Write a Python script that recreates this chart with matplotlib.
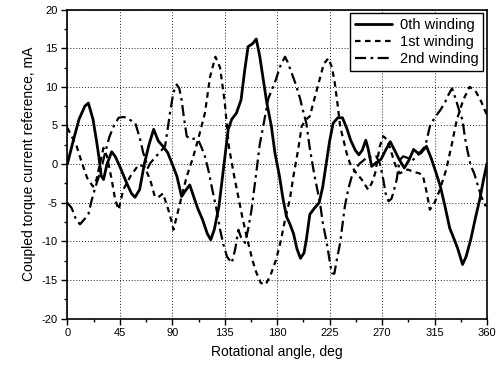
import matplotlib
matplotlib.use("Agg")
import matplotlib.pyplot as plt
from matplotlib.ticker import MultipleLocator

plt.rcParams['font.family'] = ['Liberation Sans', 'DejaVu Sans']
plt.rcParams['axes.unicode_minus'] = False

# 0th winding
angle_0 = [0, 5, 10, 15, 18, 22, 25, 27, 29, 31, 34, 38, 41, 45, 51, 55, 58, 62, 66, 70,
           74, 78, 82, 86, 90, 94, 98, 101, 105, 109, 112, 116, 120, 123, 126, 130, 134,
           138, 141, 145, 149, 152, 155, 159, 162, 165, 168, 171, 175, 178, 182, 185, 188,
           191, 194, 197, 200, 203, 205, 208, 212, 216, 219, 222, 225, 228, 232, 236, 240,
           243, 247, 250, 253, 256, 258, 261, 265, 269, 273, 277, 280, 284, 289, 293, 297,
           300, 303, 308, 312, 316, 320, 324, 328, 332, 335, 339, 342, 346, 350, 354, 357, 360]
current_0 = [0.0, 3.0, 5.8, 7.5, 7.9, 5.8, 3.0, 1.0, -1.5, -2.0, 0.0, 1.6, 1.0, -0.3, -2.5,
             -3.8, -4.3, -3.3, 0.0, 2.5, 4.5, 3.0, 2.3, 1.5, 0.0, -1.6, -4.2, -3.5, -2.7,
             -4.5, -5.8, -7.2, -9.0, -9.8, -8.5, -5.5, -0.5, 4.5, 5.8, 6.6, 8.3, 12.0, 15.2,
             15.6, 16.2, 14.0, 11.0, 8.0, 4.9, 1.5, -1.6, -4.5, -6.8, -7.8, -9.0, -11.0,
             -12.2, -11.5, -9.8, -6.5, -5.7, -5.0, -3.0, 0.0, 3.0, 5.3, 6.0, 6.0, 4.5, 3.1,
             1.8, 1.2, 1.8, 3.1, 2.0, -0.3, 0.2, 0.6, 1.8, 2.9, 2.0, 0.8, -0.5, 0.5, 1.9,
             1.5, 1.4, 2.3, 0.8, -1.0, -2.9, -5.5, -8.3, -9.8, -11.0, -13.0, -12.0, -9.8,
             -7.0, -4.4, -2.0, 0.1]

# 1st winding
angle_1 = [0, 4, 8, 12.6, 17, 22, 25, 28, 31, 34, 38, 41, 44, 48, 54, 61, 66, 71, 75, 78,
           82, 86.6, 89.5, 91, 93.8, 98, 102.4, 107.7, 112, 118, 122.4, 127, 131, 135,
           138.5, 143, 147, 150, 154, 158.7, 162, 166, 170, 174, 179, 183, 187, 190.8, 194,
           198, 201, 205, 208, 212, 217, 220, 224, 227, 229.4, 232, 234, 239.6, 242.4, 247,
           252.5, 258, 261, 264, 268, 271, 274, 277, 281, 285, 292, 297, 302, 305, 308,
           311, 315, 319.6, 325, 330, 334, 339.6, 345, 350, 355, 360]
current_1 = [4.7, 3.5, 2.3, 0.1, -1.8, -2.9, -2.0, 0.1, 2.1, 1.0, -2.0, -4.6, -5.9, -3.3,
             -1.6, -0.1, -0.3, -2.0, -4.2, -4.3, -3.8, -5.9, -7.5, -8.5, -6.8, -4.2, -1.6,
             0.8, 3.1, 6.6, 11.3, 13.9, 12.5, 8.0, 2.3, -1.5, -4.5, -6.8, -9.5, -12.4,
             -14.0, -15.4, -15.6, -14.5, -12.4, -10.0, -7.0, -4.6, -1.5, 1.9, 4.9, 5.8, 6.2,
             8.5, 11.3, 13.0, 13.7, 12.5, 10.5, 7.5, 4.9, 1.4, 0.1, -1.0, -2.0, -3.3, -2.5,
             -1.2, 2.3, 3.6, 3.2, 2.0, 0.0, -1.2, -0.7, -1.0, -1.2, -1.5, -3.5, -5.9, -5.0,
             -3.3, -0.7, 2.7, 5.7, 8.3, 10.0, 9.5, 8.1, 6.3]

# 2nd winding
angle_2 = [0, 3.7, 7, 10.8, 15.4, 18, 21, 24, 27, 30, 32.6, 36, 40, 44, 48, 51, 55, 58.3,
           60.5, 62.6, 65, 67, 69, 71, 75, 79, 83.8, 86, 88, 91, 93.8, 96, 98, 100, 102.4,
           106, 109, 112.3, 115, 118, 121, 123.8, 128, 131, 134, 137, 141, 144, 146.7, 149,
           152.4, 155, 158, 162.4, 165, 168, 172.4, 176.7, 179, 182.4, 186.7, 189, 192.4,
           196, 199.6, 202, 205, 208, 212, 216.7, 219, 222.5, 225, 226.8, 229, 231, 234,
           238, 241, 244, 247, 251, 255, 258, 262, 265, 268, 271, 273, 275.5, 278, 280,
           282.5, 285, 288, 292, 296, 300, 304, 307, 311, 315, 320, 324, 327, 330, 333, 336,
           339, 341, 343, 346, 349, 352, 355, 359]
current_2 = [-5.0, -5.7, -7.0, -7.8, -7.0, -6.5, -4.6, -3.0, -1.6, 0.0, 1.6, 3.5, 5.0, 6.0,
             6.1, 6.0, 5.6, 5.3, 4.2, 3.1, 1.5, 0.6, -0.5, 0.1, 0.8, 1.5, 2.3, 4.5, 6.6, 9.3,
             10.3, 9.8, 8.3, 6.0, 3.6, 3.2, 3.3, 3.1, 2.2, 1.0, -0.8, -2.9, -5.9, -8.5,
             -10.5, -12.0, -12.8, -11.0, -8.5, -9.5, -10.2, -8.5, -5.9, -0.7, 2.5, 4.9, 8.5,
             10.1, 11.0, 12.6, 13.9, 13.2, 11.8, 10.3, 8.5, 7.0, 5.3, 2.0, -1.5, -5.0, -7.5,
             -10.2, -12.5, -14.1, -14.2, -12.5, -10.2, -5.5, -3.2, -1.6, -0.6, 0.1, 0.6,
             1.0, 0.8, 1.0, 0.1, -2.0, -3.8, -4.8, -4.5, -3.5, -2.0, 0.5, 1.0, 0.8, 0.5, 1.0,
             1.8, 2.3, 4.9, 6.0, 7.0, 8.0, 9.0, 9.8, 8.5, 7.0, 5.7, 3.5, 1.9, -0.2, -1.2,
             -2.7, -4.2, -5.5]

labels = ["0th winding", "1st winding", "2nd winding"]
x_ticks = [0, 45, 90, 135, 180, 225, 270, 315, 360]
y_ticks = [-20, -15, -10, -5, 0, 5, 10, 15, 20]

fig = plt.figure(figsize=(4.99, 3.70), dpi=100)
ax = fig.add_axes([0.135, 0.139, 0.841, 0.835])

line_kw = dict(color="black", solid_joinstyle="round", dash_joinstyle="round",
               solid_capstyle="round")
ax.plot(angle_0, current_0, lw=2.0, ls="-", label=labels[0], **line_kw)
ax.plot(angle_1, current_1, lw=1.6, ls=(0, (2.5, 2.0)), label=labels[1], **line_kw)
ax.plot(angle_2, current_2, lw=1.6, ls=(0, (5.0, 2.0, 1.2, 2.0)), label=labels[2], **line_kw)

ax.set_xlim(0, 360)
ax.set_ylim(-20, 20)
ax.set_xticks(x_ticks)
ax.set_yticks(y_ticks)
ax.xaxis.set_minor_locator(MultipleLocator(22.5))
ax.yaxis.set_minor_locator(MultipleLocator(2.5))
ax.tick_params(which="major", direction="out", length=4, width=1, labelsize=8, pad=3)
ax.tick_params(which="minor", direction="out", length=2.5, width=1)
ax.grid(True, which="major", color="#222222", ls=(0, (1.0, 2.0)), lw=0.7)
for s in ax.spines.values():
    s.set_linewidth(1.2)

ax.set_xlabel("Rotational angle, deg", fontsize=10, labelpad=5)
ax.set_ylabel("Coupled torque current reference, mA", fontsize=10, labelpad=4)

leg = ax.legend(loc="upper right", fontsize=10.5, frameon=True, fancybox=False,
                edgecolor="black", framealpha=1, handlelength=2.5, borderaxespad=0.25,
                labelspacing=0.2, handletextpad=0.55, borderpad=0.35)
leg.get_frame().set_linewidth(1.0)

fig.savefig("out.png", dpi=100)
